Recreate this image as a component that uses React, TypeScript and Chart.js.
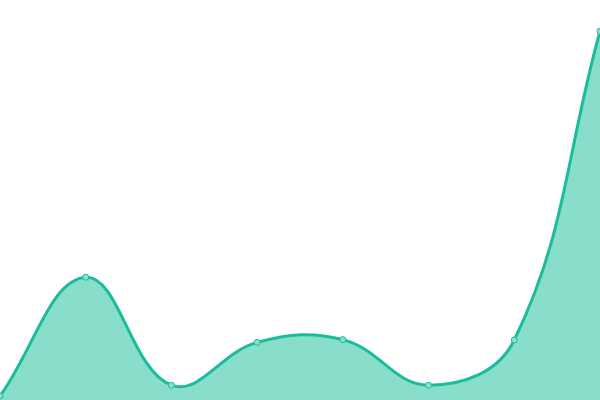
import { useEffect, useRef } from "react";
import { Chart, registerables } from "chart.js";
Chart.register(...registerables);

const labels = ["1", "2", "3", "4", "5", "6", "7", "8"];
const values = [1, 30.7, 3.7, 14.4, 15.1, 3.7, 15, 92.2];

const LINE = "#1abc9c";
const FILL = "rgba(26, 190, 156, 0.52)";
const POINT_FILL = "rgba(140, 222, 205, 1)";

const App = () => {
  const canvasRef = useRef<HTMLCanvasElement>(null);

  useEffect(() => {
    document.body.style.margin = "0";
    const canvas = canvasRef.current;
    if (!canvas) {
      return;
    }

    const chart = new Chart(canvas, {
      type: "line",
      data: {
        labels,
        datasets: [
          {
            data: values,
            fill: true,
            borderColor: LINE,
            backgroundColor: FILL,
            borderWidth: 3,
            tension: 0.4,
            pointRadius: 3,
            pointBorderWidth: 1,
            pointBackgroundColor: POINT_FILL,
            pointBorderColor: LINE,
          },
        ],
      },
      options: {
        animation: false,
        responsive: true,
        maintainAspectRatio: false,
        layout: { padding: 0, autoPadding: false },
        plugins: {
          legend: { display: false },
          tooltip: { enabled: false },
        },
        scales: {
          x: { display: false },
          y: { display: false, min: 0, max: 100 },
        },
      },
    });

    return () => {
      chart.destroy();
    };
  }, []);

  return (
    <div style={{ position: "relative", width: 600, height: 400 }}>
      <canvas ref={canvasRef}></canvas>
    </div>
  );
};

export default App;
